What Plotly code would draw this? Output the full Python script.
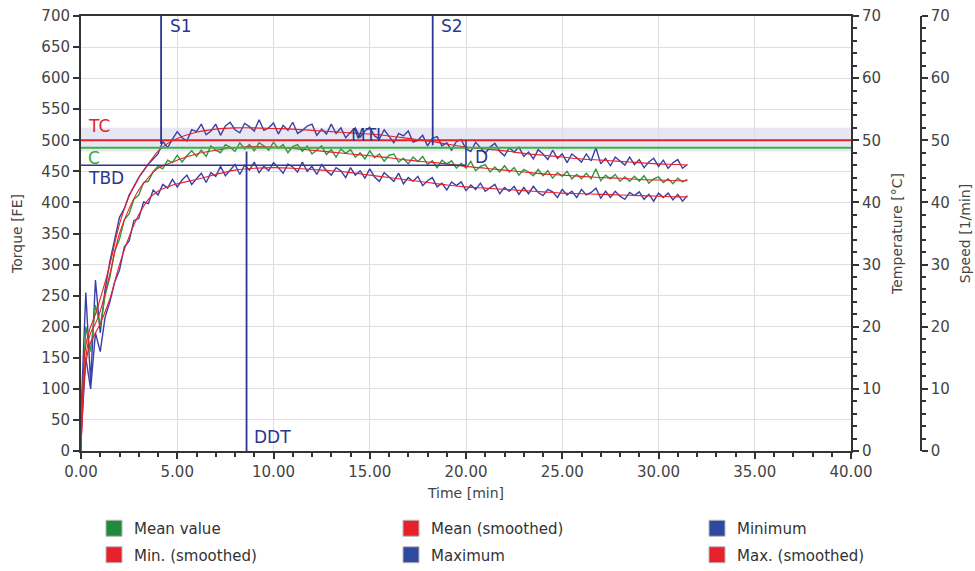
import plotly.graph_objects as go

# ---------------- data ----------------
TIME = [i * 0.25 for i in range(127)]  # sampling grid, 0 .. 31.5 min

MAXIMUM = [60, 255, 110, 275, 190, 260, 305, 338, 376, 390, 412, 425, 440, 451, 462, 470,
           478, 498, 488, 502, 514, 504, 499, 517, 514, 526, 509, 515, 526, 508, 523, 529,
           517, 512, 527, 522, 515, 533, 516, 520, 528, 510, 524, 516, 529, 511, 516, 523,
           526, 508, 518, 510, 526, 511, 520, 504, 513, 520, 505, 515, 521, 507, 502, 517,
           507, 496, 511, 507, 515, 497, 500, 508, 491, 503, 506, 491, 496, 484, 498, 501,
           486, 482, 497, 488, 479, 489, 495, 482, 475, 488, 481, 489, 474, 481, 470, 485,
           478, 469, 484, 471, 478, 464, 478, 472, 465, 478, 467, 488, 462, 471, 459, 473,
           467, 460, 473, 461, 469, 456, 465, 471, 458, 468, 455, 464, 469, 455, 461]

MEAN_VALUE = [40, 200, 160, 235, 200, 250, 280, 322, 341, 372, 382, 405, 412, 432, 434, 450,
              458, 454, 468, 464, 476, 465, 475, 483, 474, 484, 474, 491, 484, 480, 493, 489,
              482, 496, 486, 493, 483, 496, 491, 484, 497, 487, 493, 480, 490, 493, 482, 491,
              478, 485, 491, 477, 485, 473, 486, 479, 485, 473, 480, 470, 483, 472, 478, 466,
              476, 478, 465, 471, 462, 473, 466, 474, 461, 467, 456, 468, 462, 467, 455, 463,
              455, 466, 451, 458, 461, 449, 457, 449, 459, 449, 456, 444, 453, 449, 443, 453,
              443, 451, 439, 448, 442, 450, 438, 445, 438, 447, 438, 454, 435, 444, 438, 445,
              434, 441, 434, 442, 434, 443, 431, 438, 441, 432, 438, 430, 439, 433, 437]

MINIMUM = [20, 150, 100, 190, 160, 215, 240, 272, 291, 328, 338, 371, 374, 401, 398, 420,
           412, 429, 423, 437, 425, 436, 444, 429, 438, 447, 432, 448, 442, 458, 443, 452,
           461, 445, 460, 452, 465, 448, 458, 451, 464, 456, 447, 462, 457, 449, 465, 450,
           458, 445, 461, 451, 444, 456, 451, 440, 456, 444, 451, 439, 454, 441, 434, 448,
           441, 434, 447, 430, 440, 434, 442, 427, 435, 440, 425, 431, 420, 433, 427, 433,
           419, 428, 421, 431, 418, 424, 429, 414, 424, 418, 426, 413, 424, 414, 426, 416,
           411, 421, 417, 408, 421, 412, 418, 408, 421, 412, 416, 423, 407, 418, 408, 418,
           410, 405, 416, 411, 417, 405, 413, 402, 415, 408, 415, 404, 413, 402, 411]

SMOOTH_TIME = [0, 0.25, 0.5, 0.75, 1, 1.5, 2, 2.5, 3, 3.5, 4, 4.5, 5, 6, 7, 8, 9, 10,
               11, 12, 13, 14, 15, 16, 17, 18, 19, 20, 21, 22, 23, 24, 25, 26, 27, 28,
               29, 30, 31, 31.5]
MAX_SMOOTHED = [0, 170, 200, 220, 245, 300, 365, 410, 440, 462, 482, 495, 503, 513, 518,
                520, 520, 519, 518, 516, 514, 512, 510, 507, 503, 499, 494, 489, 486, 483,
                479, 476, 473, 470, 468, 466, 464, 462, 461, 460]
MEAN_SMOOTHED = [0, 150, 190, 205, 225, 285, 350, 390, 420, 440, 455, 462, 468, 478, 484,
                 488, 490, 489, 487, 484, 481, 478, 475, 472, 468, 465, 462, 458, 455, 452,
                 449, 446, 444, 442, 440, 439, 437, 436, 435, 435]
MIN_SMOOTHED = [0, 140, 175, 190, 205, 245, 300, 345, 380, 405, 418, 425, 430, 437, 445,
                452, 455, 456, 455, 453, 451, 448, 444, 440, 436, 432, 428, 425, 423, 421,
                419, 417, 415, 414, 413, 412, 411, 410, 409, 409]

# reference lines / markers
TC_LEVEL = 500
C_LEVEL = 488
TBD_LEVEL = 460
TBD_END = 20.0
TBD_TOP = 500
BAND = [482, 520]
VLINE_NAMES = ["S1", "S2", "DDT"]
VLINE_T = [4.16, 18.27, 8.6]
VLINE_Y0 = [494, 492, 0]
VLINE_Y1 = [700, 700, 482]

X_TICKS = [0, 5, 10, 15, 20, 25, 30, 35, 40]

BLUE = "#3a40a6"
RED = "#e8202a"
GREEN = "#2f9a3a"
LBLUE = "#2b3790"
FONT = "DejaVu Sans"

fig = go.Figure()

fig.add_trace(go.Scatter(x=TIME, y=MAXIMUM, mode="lines", line=dict(color=BLUE, width=1.4),
                         showlegend=False, hoverinfo="skip"))
fig.add_trace(go.Scatter(x=TIME, y=MINIMUM, mode="lines", line=dict(color=BLUE, width=1.4),
                         showlegend=False, hoverinfo="skip"))
fig.add_trace(go.Scatter(x=TIME, y=MEAN_VALUE, mode="lines", line=dict(color=GREEN, width=1.4),
                         showlegend=False, hoverinfo="skip"))
for ys in (MAX_SMOOTHED, MIN_SMOOTHED, MEAN_SMOOTHED):
    fig.add_trace(go.Scatter(x=SMOOTH_TIME, y=ys, mode="lines",
                             line=dict(color=RED, width=1.1, shape="spline"),
                             showlegend=False, hoverinfo="skip"))

# legend entries: three columns of two rows
LEGEND_NAMES = ["Mean value", "Min. (smoothed)",
                "Mean (smoothed)", "Maximum",
                "Minimum", "Max. (smoothed)"]
LEGEND_COLORS = ["#1f8a3c", RED, RED, "#2f48a0", "#2f48a0", RED]
LEGEND_IDS = ["legend", "legend", "legend2", "legend2", "legend3", "legend3"]
for i, (nm, col, lg) in enumerate(zip(LEGEND_NAMES, LEGEND_COLORS, LEGEND_IDS)):
    fig.add_trace(go.Scatter(x=[None], y=[None], mode="markers", name=nm, legendgroup=f"g{i}",
                             marker=dict(symbol="square", size=16, color=col,
                                         line=dict(color="#b8b8b8", width=1)),
                             legend=lg))

shapes = []
shapes.append(dict(type="rect", xref="x domain", yref="y", x0=0, x1=1, y0=BAND[0], y1=BAND[1],
                   fillcolor="rgba(200,202,228,0.45)", line=dict(width=0), layer="below"))
shapes.append(dict(type="line", xref="x domain", yref="y", x0=0, x1=1, y0=TC_LEVEL, y1=TC_LEVEL,
                   line=dict(color=RED, width=2)))
shapes.append(dict(type="line", xref="x domain", yref="y", x0=0, x1=1, y0=C_LEVEL, y1=C_LEVEL,
                   line=dict(color="#3cb043", width=2)))
shapes.append(dict(type="line", xref="x", yref="y", x0=0, x1=TBD_END, y0=TBD_LEVEL, y1=TBD_LEVEL,
                   line=dict(color=LBLUE, width=1.5)))
shapes.append(dict(type="line", xref="x", yref="y", x0=TBD_END, x1=TBD_END, y0=TBD_LEVEL, y1=TBD_TOP,
                   line=dict(color=LBLUE, width=1.5)))
for t, y0, y1 in zip(VLINE_T, VLINE_Y0, VLINE_Y1):
    shapes.append(dict(type="line", xref="x", yref="y", x0=t, x1=t, y0=y0, y1=y1,
                       line=dict(color=LBLUE, width=1.8)))

LABELS = [("S1", 4.5, 684, LBLUE), ("S2", 18.6, 684, LBLUE), ("DDT", 8.9, 22, LBLUE),
          ("TC", 0.25, 523, "#e0262c"), ("C", 0.25, 472, "#3aa63a"), ("TBD", 0.25, 439, LBLUE),
          ("MTI", 13.9, 509, LBLUE), ("D", 20.35, 473, LBLUE)]
annotations = []
for txt, x, y, col in LABELS:
    annotations.append(dict(text=txt, x=x, y=y, xref="x", yref="y", showarrow=False,
                            xanchor="left", yanchor="middle",
                            font=dict(family=FONT, size=17, color=col)))

axis_common = dict(showline=True, linecolor="#333", ticks="outside", tickcolor="#333",
                   tickfont=dict(family=FONT, size=15, color="#444"), zeroline=False)

W, H = 975, 571
ML, MR, MT, MB = 81, 0, 16, 120
pw = W - ML - MR
ph = H - MT - MB


def px_x(x):
    return (x - ML) / pw


def px_y(y):
    return (H - MB - y) / ph


legend_common = dict(orientation="v", xanchor="left", yanchor="top", tracegroupgap=4,
                     font=dict(family=FONT, size=15, color="#333"), bgcolor="rgba(0,0,0,0)")

fig.update_layout(
    width=W, height=H, margin=dict(l=ML, r=MR, t=MT, b=MB, autoexpand=False),
    paper_bgcolor="white", plot_bgcolor="white",
    font=dict(family=FONT, color="#444"),
    shapes=shapes, annotations=annotations,
    xaxis=dict(domain=[0, 770 / pw], range=[0, 40], tickvals=X_TICKS, tickformat=".2f",
               ticklen=6, tickwidth=1.5, linewidth=2, mirror=True, showgrid=True,
               gridcolor="#dedede", gridwidth=1,
               minor=dict(dtick=1, ticks="outside", ticklen=4, tickcolor="#333", showgrid=False),
               title=dict(text="Time [min]", font=dict(family=FONT, size=14, color="#444"),
                          standoff=8),
               **axis_common),
    yaxis=dict(range=[0, 700], dtick=50, ticklen=6, tickwidth=1.5, linewidth=2, mirror=True,
               showgrid=True, gridcolor="#dedede",
               title=dict(text="Torque [FE]", font=dict(family=FONT, size=14, color="#444"),
                          standoff=15),
               **axis_common),
    yaxis2=dict(overlaying="y", side="right", anchor="x", range=[0, 70], dtick=10, ticklen=6,
                tickwidth=1.5, linewidth=2, showgrid=False,
                minor=dict(dtick=2, ticks="outside", ticklen=4, tickcolor="#333"),
                title=dict(text="Temperature [°C]", font=dict(family=FONT, size=14, color="#444"),
                           standoff=12),
                **axis_common),
    yaxis3=dict(overlaying="y", side="right", anchor="free", position=px_x(921),
                range=[0, 70], dtick=10, ticklen=6, tickwidth=1.5, linewidth=1.5, showgrid=False,
                minor=dict(dtick=2, ticks="outside", ticklen=4, tickcolor="#333"),
                title=dict(text="Speed [1/min]", font=dict(family=FONT, size=14, color="#444"),
                           standoff=10),
                **axis_common),
    legend=dict(x=px_x(94), y=px_y(512), **legend_common),
    legend2=dict(x=px_x(391), y=px_y(512), **legend_common),
    legend3=dict(x=px_x(697), y=px_y(512), **legend_common),
)

fig.add_trace(go.Scatter(x=[None], y=[None], yaxis="y2", showlegend=False))
fig.add_trace(go.Scatter(x=[None], y=[None], yaxis="y3", showlegend=False))

fig.write_html("out.html", config={"displayModeBar": False},
               post_script="document.body.style.margin='0';")
